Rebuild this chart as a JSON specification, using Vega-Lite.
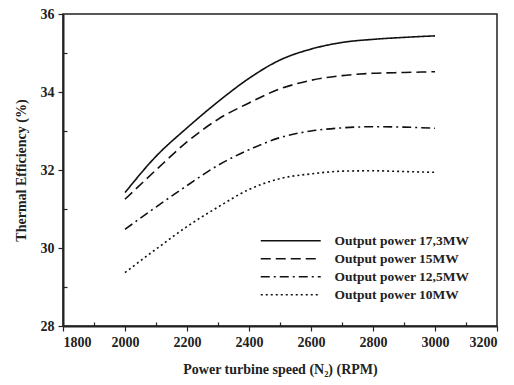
{
  "$schema": "https://vega.github.io/schema/vega-lite/v6.json",
  "width": 434,
  "height": 312,
  "autosize": {"type": "none"},
  "padding": {"left": 63, "top": 14, "right": 17, "bottom": 59},
  "background": "white",
  "config": {
    "view": {"stroke": "#222", "strokeWidth": 1.5},
    "font": "Liberation Serif",
    "axis": {
      "labelFont": "Liberation Serif", "labelFontWeight": "bold", "labelFontSize": 14, "labelColor": "#222",
      "titleFont": "Liberation Serif", "titleFontWeight": "bold", "titleFontSize": 14, "titleColor": "#222",
      "domainColor": "#222", "domainWidth": 2, "tickColor": "#222", "tickWidth": 1.2, "grid": false
    },
    "legend": {"labelFont": "Liberation Serif", "labelFontWeight": "bold", "labelFontSize": 13.5, "labelColor": "#222"}
  },
  "data": {"values": [
    {"speed": 2000, "eff": 31.42, "series": "Output power 17,3MW"},
    {"speed": 2100, "eff": 32.35, "series": "Output power 17,3MW"},
    {"speed": 2200, "eff": 33.08, "series": "Output power 17,3MW"},
    {"speed": 2300, "eff": 33.75, "series": "Output power 17,3MW"},
    {"speed": 2400, "eff": 34.35, "series": "Output power 17,3MW"},
    {"speed": 2500, "eff": 34.82, "series": "Output power 17,3MW"},
    {"speed": 2600, "eff": 35.1, "series": "Output power 17,3MW"},
    {"speed": 2700, "eff": 35.27, "series": "Output power 17,3MW"},
    {"speed": 2800, "eff": 35.35, "series": "Output power 17,3MW"},
    {"speed": 2900, "eff": 35.4, "series": "Output power 17,3MW"},
    {"speed": 3000, "eff": 35.44, "series": "Output power 17,3MW"},
    {"speed": 2000, "eff": 31.25, "series": "Output power 15MW"},
    {"speed": 2100, "eff": 32.0, "series": "Output power 15MW"},
    {"speed": 2200, "eff": 32.72, "series": "Output power 15MW"},
    {"speed": 2300, "eff": 33.3, "series": "Output power 15MW"},
    {"speed": 2400, "eff": 33.72, "series": "Output power 15MW"},
    {"speed": 2500, "eff": 34.08, "series": "Output power 15MW"},
    {"speed": 2600, "eff": 34.3, "series": "Output power 15MW"},
    {"speed": 2700, "eff": 34.42, "series": "Output power 15MW"},
    {"speed": 2800, "eff": 34.48, "series": "Output power 15MW"},
    {"speed": 2900, "eff": 34.5, "series": "Output power 15MW"},
    {"speed": 3000, "eff": 34.52, "series": "Output power 15MW"},
    {"speed": 2000, "eff": 30.48, "series": "Output power 12,5MW"},
    {"speed": 2100, "eff": 31.05, "series": "Output power 12,5MW"},
    {"speed": 2200, "eff": 31.6, "series": "Output power 12,5MW"},
    {"speed": 2300, "eff": 32.12, "series": "Output power 12,5MW"},
    {"speed": 2400, "eff": 32.52, "series": "Output power 12,5MW"},
    {"speed": 2500, "eff": 32.83, "series": "Output power 12,5MW"},
    {"speed": 2600, "eff": 33.0, "series": "Output power 12,5MW"},
    {"speed": 2700, "eff": 33.08, "series": "Output power 12,5MW"},
    {"speed": 2800, "eff": 33.11, "series": "Output power 12,5MW"},
    {"speed": 2900, "eff": 33.1, "series": "Output power 12,5MW"},
    {"speed": 3000, "eff": 33.07, "series": "Output power 12,5MW"},
    {"speed": 2000, "eff": 29.37, "series": "Output power 10MW"},
    {"speed": 2100, "eff": 29.97, "series": "Output power 10MW"},
    {"speed": 2200, "eff": 30.55, "series": "Output power 10MW"},
    {"speed": 2300, "eff": 31.05, "series": "Output power 10MW"},
    {"speed": 2400, "eff": 31.5, "series": "Output power 10MW"},
    {"speed": 2500, "eff": 31.78, "series": "Output power 10MW"},
    {"speed": 2600, "eff": 31.9, "series": "Output power 10MW"},
    {"speed": 2700, "eff": 31.97, "series": "Output power 10MW"},
    {"speed": 2800, "eff": 31.98, "series": "Output power 10MW"},
    {"speed": 2900, "eff": 31.96, "series": "Output power 10MW"},
    {"speed": 3000, "eff": 31.94, "series": "Output power 10MW"}
  ]},
  "layer": [
    {
      "mark": {"type": "line", "interpolate": "monotone", "color": "#111", "strokeWidth": 1.6},
      "encoding": {
        "x": {"field": "speed", "type": "quantitative", "scale": {"domain": [1800, 3200], "nice": false},
          "axis": {"values": [1800, 2000, 2200, 2400, 2600, 2800, 3000, 3200], "orient": "bottom", "format": "d", "tickSize": 5, "labelPadding": 4, "title": "Power turbine speed (N₂) (RPM)", "titlePadding": 13}},
        "y": {"field": "eff", "type": "quantitative", "scale": {"domain": [28, 36], "nice": false, "zero": false},
          "axis": {"values": [28, 30, 32, 34, 36], "orient": "left", "tickSize": 5, "labelPadding": 4, "title": "Thermal Efficiency (%)", "titlePadding": 12}},
        "strokeDash": {"field": "series", "type": "nominal",
          "scale": {"domain": ["Output power 17,3MW", "Output power 15MW", "Output power 12,5MW", "Output power 10MW"],
            "range": [[1, 0], [10, 5], [9, 4, 2, 4], [2, 3]]},
          "legend": {"title": null, "orient": "none", "legendX": 221, "legendY": 220, "symbolType": "M-6,0H6", "symbolSize": 100, "symbolStrokeWidth": 1.6, "symbolStrokeColor": "#111", "labelOffset": 37, "rowPadding": 3}}
      }
    },
    {
      "mark": {"type": "point", "opacity": 0},
      "encoding": {
        "x": {"field": "speed", "type": "quantitative", "scale": {"domain": [1800, 3200], "nice": false},
          "axis": {"values": [1900, 2100, 2300, 2500, 2700, 2900, 3100], "orient": "bottom", "labels": false, "domain": false, "tickSize": -4, "title": null}},
        "y": {"field": "eff", "type": "quantitative", "scale": {"domain": [28, 36], "nice": false, "zero": false},
          "axis": {"values": [29, 31, 33, 35], "orient": "left", "labels": false, "domain": false, "tickSize": -4, "title": null}}
      }
    }
  ],
  "resolve": {"axis": {"x": "independent", "y": "independent"}}
}
